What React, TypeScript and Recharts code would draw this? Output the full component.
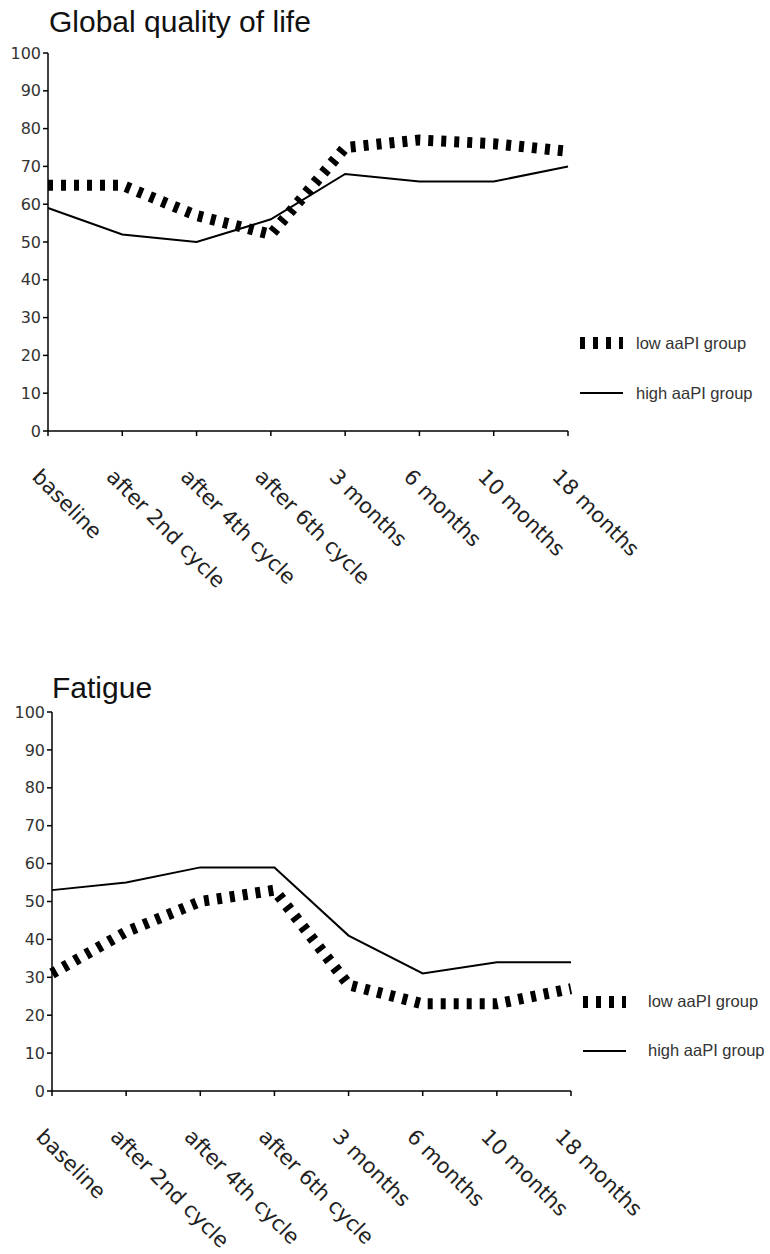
import React from 'react';
import { LineChart, Line, XAxis, YAxis, Legend } from 'recharts';

// Assessment time points shared by both panels
const timepoints = [
  'baseline',
  'after 2nd cycle',
  'after 4th cycle',
  'after 6th cycle',
  '3 months',
  '6 months',
  '10 months',
  '18 months',
];

// Global quality of life scores
const qolLow = [65, 65, 57, 52, 75, 77, 76, 74];
const qolHigh = [59, 52, 50, 56, 68, 66, 66, 70];

// Fatigue scores
const fatigueLow = [31, 42, 50, 53, 28, 23, 23, 27];
const fatigueHigh = [53, 55, 59, 59, 41, 31, 34, 34];

const yTicks = [0, 10, 20, 30, 40, 50, 60, 70, 80, 90, 100];

const seriesNames = { low: 'low aaPI group', high: 'high aaPI group' };
const legendOrder = ['low', 'high'];

const buildRows = (low: number[], high: number[]) =>
  timepoints.map((t, i) => ({ time: t, low: low[i], high: high[i] }));

const qolData = buildRows(qolLow, qolHigh);
const fatigueData = buildRows(fatigueLow, fatigueHigh);

const LOW_STYLE = { stroke: '#000', strokeWidth: 11, strokeDasharray: '5 8' };
const HIGH_STYLE = { stroke: '#000', strokeWidth: 2 };

const LEGEND_WIDTH = 190;

function SlantedTick(props: any) {
  const { x, y, payload } = props;
  return (
    <text
      transform={`translate(${x - 17},${y + 40}) rotate(45)`}
      textAnchor="start"
      fontSize={21}
      fontFamily="DejaVu Sans"
      fill="#222"
    >
      {payload.value}
    </text>
  );
}

function makeLegend(sampleWidth: number, gap: number, rowHeight: number) {
  return (props: any) => {
    const items = [...(props.payload || [])].sort(
      (a: any, b: any) => legendOrder.indexOf(a.dataKey) - legendOrder.indexOf(b.dataKey)
    );
    return (
      <div>
        {items.map((entry: any) => {
          const isLow = entry.dataKey === 'low';
          return (
            <div
              key={entry.dataKey}
              style={{ display: 'flex', alignItems: 'center', height: rowHeight }}
            >
              <svg width={sampleWidth} height={14} style={{ display: 'block' }}>
                <line
                  x1={0}
                  y1={7}
                  x2={sampleWidth}
                  y2={7}
                  stroke="#000"
                  strokeWidth={isLow ? 12 : 2}
                  strokeDasharray={isLow ? '5 8' : undefined}
                />
              </svg>
              <span
                style={{
                  marginLeft: gap,
                  fontFamily: 'Liberation Sans',
                  fontSize: 16.5,
                  color: '#333',
                  whiteSpace: 'nowrap',
                }}
              >
                {entry.value}
              </span>
            </div>
          );
        })}
      </div>
    );
  };
}

function Panel(props: {
  title: string;
  data: any[];
  top: number;
  height: number;
  margin: any;
  yWidth: number;
  titleLeft: number;
  titleTop: number;
  legendLeft: number;
  legendTop: number;
  legendGap: number;
  legendRow: number;
}) {
  const p = props;
  return (
    <div style={{ position: 'absolute', left: 0, top: p.top, width: 770, height: p.height }}>
      <div
        style={{
          position: 'absolute',
          left: p.titleLeft,
          top: p.titleTop,
          fontFamily: 'Liberation Sans',
          fontSize: 30,
          lineHeight: '30px',
          color: '#111',
          whiteSpace: 'nowrap',
          zIndex: 2,
        }}
      >
        {p.title}
      </div>
      <LineChart width={770} height={p.height} data={p.data} margin={p.margin}>
        <XAxis
          dataKey="time"
          interval={0}
          height={150}
          tickSize={5}
          tickMargin={2}
          tick={<SlantedTick />}
          axisLine={{ stroke: '#000', strokeWidth: 1.5 }}
          tickLine={{ stroke: '#000', strokeWidth: 1.5 }}
        />
        <YAxis
          width={p.yWidth}
          domain={[0, 100]}
          ticks={yTicks}
          interval={0}
          tickSize={5}
          tickMargin={2}
          axisLine={{ stroke: '#000', strokeWidth: 1.5 }}
          tickLine={{ stroke: '#000', strokeWidth: 1.5 }}
          tick={{ fontSize: 16, fontFamily: 'DejaVu Sans', fill: '#333' }}
        />
        <Legend
          layout="vertical"
          align="right"
          verticalAlign="middle"
          content={makeLegend(43, p.legendGap, p.legendRow)}
          wrapperStyle={{
            left: p.legendLeft,
            top: p.legendTop,
            width: LEGEND_WIDTH,
            bottom: 'auto',
            right: 'auto',
          }}
        />
        <Line
          type="linear"
          dataKey="low"
          name={seriesNames.low}
          stroke={LOW_STYLE.stroke}
          strokeWidth={LOW_STYLE.strokeWidth}
          strokeDasharray={LOW_STYLE.strokeDasharray}
          dot={false}
          activeDot={false}
          isAnimationActive={false}
        />
        <Line
          type="linear"
          dataKey="high"
          name={seriesNames.high}
          stroke={HIGH_STYLE.stroke}
          strokeWidth={HIGH_STYLE.strokeWidth}
          dot={false}
          activeDot={false}
          isAnimationActive={false}
        />
      </LineChart>
    </div>
  );
}

export default function App() {
  return (
    <div style={{ position: 'absolute', left: 0, top: 0, width: 770, height: 1254, background: '#fff' }}>
      <Panel
        title="Global quality of life"
        data={qolData}
        top={0}
        height={620}
        margin={{ top: 53, right: 202 - LEGEND_WIDTH, bottom: 39, left: 0 }}
        yWidth={48}
        titleLeft={49}
        titleTop={7}
        legendLeft={580}
        legendTop={318}
        legendGap={13}
        legendRow={50}
      />
      <Panel
        title="Fatigue"
        data={fatigueData}
        top={650}
        height={604}
        margin={{ top: 62, right: 199 - LEGEND_WIDTH, bottom: 13, left: 0 }}
        yWidth={52}
        titleLeft={52}
        titleTop={23}
        legendLeft={583}
        legendTop={327}
        legendGap={22}
        legendRow={49}
      />
    </div>
  );
}
